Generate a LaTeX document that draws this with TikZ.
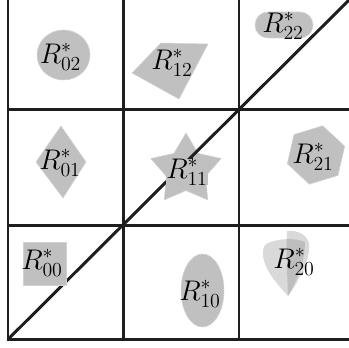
\RequirePackage{fix-cm}
\documentclass[tikz,border=0pt]{standalone}
\usetikzlibrary{shapes.geometric}
\definecolor{shapegray}{RGB}{192,192,192}
\definecolor{linecol}{RGB}{30,30,30}
\tikzset{
  gridline/.style={draw=linecol, line width=2.2pt},
  region/.style={fill=shapegray, draw=gray!35, line width=0.4pt},
  softregion/.style={fill=gray, fill opacity=0.3, draw=none},
  lab/.style={font=\fontsize{21}{24}\selectfont, inner sep=0pt},
}
\begin{document}
\begin{tikzpicture}[x=0.025974cm, y=-0.025974cm]
\useasboundingbox (0,0) rectangle (349,348);
\clip (0,0) rectangle (349,348);
% grid coordinates
\coordinate (c00) at (8,339.3);
\coordinate (top0) at (8,-12);
\coordinate (bot1) at (123.3,339.3);
\coordinate (top1) at (123.3,-12);
\coordinate (bot2) at (239,339.3);
\coordinate (top2) at (239,-12);
\coordinate (right0) at (362,339.3);
\coordinate (left1) at (8,225.5);
\coordinate (right1) at (362,225.5);
\coordinate (left2) at (8,109.5);
\coordinate (right2) at (362,109.5);
\coordinate (diagend) at (362,-12.9);
% star behind the diagonal
\node[star, star points=5, star point ratio=1.8, minimum size=1.922cm, inner sep=0pt, region] (s11) at (186,170) {};
% grid
\draw[gridline] (top0) -- (c00) -- (right0);
\draw[gridline] (bot1) -- (top1);
\draw[gridline] (bot2) -- (top2);
\draw[gridline] (left1) -- (right1);
\draw[gridline] (left2) -- (right2);
\draw[gridline] (c00) -- (diagend);
% regions
\path[region] (63.5,55) ellipse [x radius=26.5, y radius=25];
\path[region] (132,73) -- (161,43) -- (208,44) -- (179,99) -- cycle;
\path[region, rounded corners=0.3377cm] (255,12) rectangle (313,38);
\path[region] (61,126) -- (86,162) -- (63,198) -- (36,162) -- cycle;
\coordinate (h21) at (316,155);
\path[region] (h21) +(-17:30) -- +(-77:30) -- +(-137:30) -- +(-197:30) -- +(-257:30) -- +(-317:30) -- cycle;
\path[region] (23,242) rectangle (66,285);
\path[region] (202.5,290.5) ellipse [x radius=21.5, y radius=36.5];
\path[softregion] (287,231) .. controls (297,230) and (306,234) .. (309,243) .. controls (311,260) and (298,282) .. (288,296) .. controls (287,270) and (286,250) .. (287,231) -- cycle;
\path[softregion] (268,243) .. controls (280,238) and (296,238) .. (305,242) .. controls (305,262) and (296,283) .. (288,296) .. controls (278,285) and (262,268) .. (263,252) .. controls (263,247) and (265,244) .. (268,243) -- cycle;
% labels
\node[lab] (l02) at (60.5,57) {$R^*_{02}$};
\node[lab] (l12) at (172,63) {$R^*_{12}$};
\node[lab] (l22) at (283,26) {$R^*_{22}$};
\node[lab] (l01) at (60,163) {$R^*_{01}$};
\node[lab, fill=shapegray] (l11) at (187,172) {$R^*_{11}$};
\node[lab] (l21) at (313,157) {$R^*_{21}$};
\node[lab] (l00) at (42,263) {$R^*_{00}$};
\node[lab] (l10) at (200,294) {$R^*_{10}$};
\node[lab] (l20) at (294,262) {$R^*_{20}$};
\end{tikzpicture}
\end{document}
